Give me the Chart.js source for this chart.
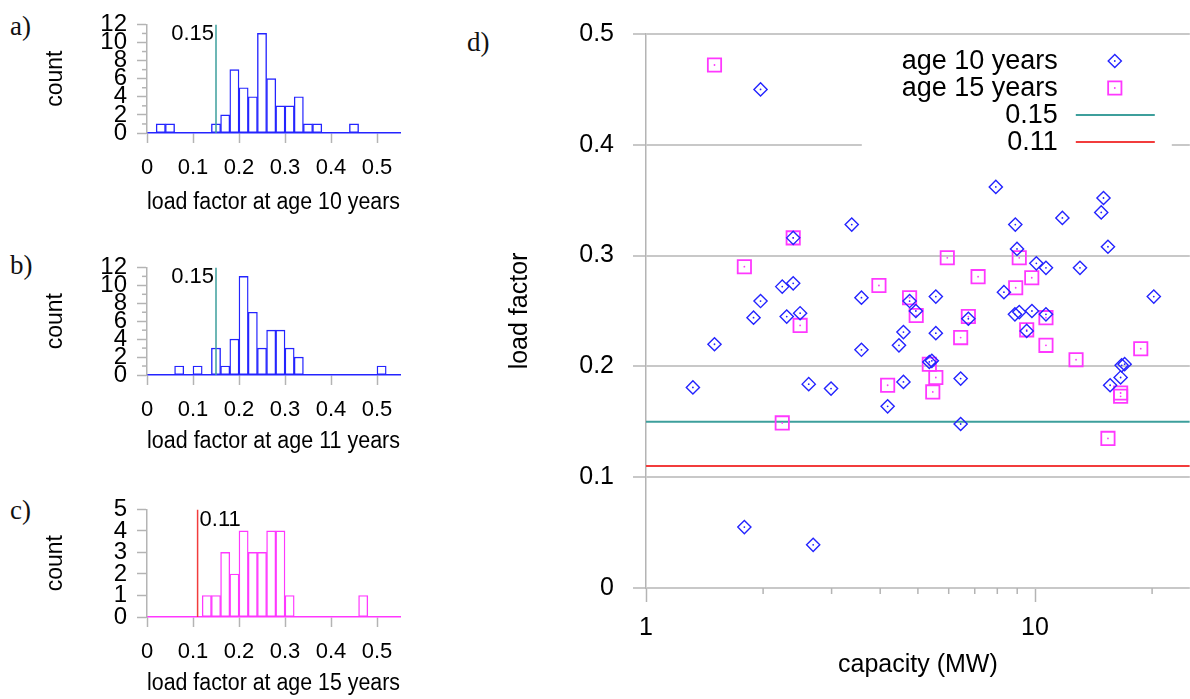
<!DOCTYPE html>
<html>
<head>
<meta charset="utf-8">
<script src="https://cdn.jsdelivr.net/npm/chart.js@4/dist/chart.umd.min.js"></script>
<style>
  html, body { margin: 0; padding: 0; background: #fff; overflow: hidden; }
  .panel { position: absolute; left: 0; }
  .tag { position: absolute; font-family: 'Liberation Serif', 'DejaVu Serif', serif; font-size: 27px; line-height: 1; color: #111; }
</style>
</head>
<body>
<div class="tag" style="left:10px;top:13px">a)</div>
<div class="tag" style="left:10px;top:252px">b)</div>
<div class="tag" style="left:10px;top:497px">c)</div>
<div class="tag" style="left:467px;top:29px">d)</div>

<canvas id="histA" class="panel" width="420" height="220" style="top:0px"></canvas>
<canvas id="histB" class="panel" width="420" height="219" style="top:243px"></canvas>
<canvas id="histC" class="panel" width="420" height="219" style="top:485px"></canvas>
<canvas id="scatter" class="panel" width="761" height="699" style="left:440px;top:0px"></canvas>

<script>
// histogram bins (lower edges), width 0.02
const binStart = [0, 0.02, 0.04, 0.06, 0.08, 0.10, 0.12, 0.14, 0.16, 0.18, 0.20, 0.22, 0.24, 0.26,
                  0.28, 0.30, 0.32, 0.34, 0.36, 0.38, 0.40, 0.42, 0.44, 0.46, 0.48, 0.50, 0.52];
const binWidth = 0.02;
const count10 = [0, 1, 1, 0, 0, 0, 0, 1, 2, 7, 5, 4, 11, 6, 3, 3, 4, 1, 1, 0, 0, 0, 1, 0, 0, 0, 0];
const count11 = [0, 0, 0, 1, 0, 1, 0, 3, 1, 4, 11, 7, 3, 5, 5, 3, 2, 0, 0, 0, 0, 0, 0, 0, 0, 1, 0];
const count15 = [0, 0, 0, 0, 0, 0, 1, 1, 3, 2, 4, 3, 3, 4, 4, 1, 0, 0, 0, 0, 0, 0, 0, 1, 0, 0, 0];
const lfTicks = [0, 0.1, 0.2, 0.3, 0.4, 0.5];
const countTicks12 = [0, 1, 2, 3, 4, 5, 6, 7, 8, 9, 10, 11, 12];
const countTicks5 = [0, 1, 2, 3, 4, 5];

const cut10 = 0.15;
const cut15 = 0.11;

// scatter: capacity (MW) vs load factor
const cap10 = [1.32, 1.50, 1.97, 1.97, 1.89, 1.79, 2.24, 2.39, 2.39, 2.30, 2.49, 2.62, 2.69, 2.99,
               3.38, 3.58, 3.58, 4.18, 4.47, 4.59, 4.59, 4.76, 4.94, 5.35, 5.43, 5.56, 5.56,
               6.44, 6.44, 6.74, 7.93, 8.32, 8.88, 8.90, 8.99, 9.11, 9.52, 9.82, 10.08, 10.67,
               10.67, 11.76, 13.05, 14.8, 15.0, 15.4, 15.6, 16.6, 16.7, 17.0, 20.2];
const lf10 = [0.181, 0.220, 0.450, 0.259, 0.244, 0.055, 0.272, 0.275, 0.316, 0.245, 0.248, 0.184, 0.039, 0.180,
              0.328, 0.262, 0.215, 0.164, 0.219, 0.231, 0.186, 0.259, 0.250, 0.204, 0.205, 0.263, 0.230,
              0.189, 0.148, 0.243, 0.362, 0.267, 0.247, 0.328, 0.306, 0.249, 0.232, 0.250, 0.293, 0.289,
              0.247, 0.334, 0.289, 0.339, 0.352, 0.308, 0.183, 0.190, 0.201, 0.202, 0.263];
const cap15 = [1.50, 1.79, 2.39, 2.49, 2.24, 3.97, 4.18, 4.76, 4.95, 5.35, 5.46, 5.56, 5.95, 6.44,
               6.74, 7.14, 8.92, 9.11, 9.52, 9.81, 10.67, 10.67, 12.75, 15.4, 16.6, 16.6, 18.7];
const lf15 = [0.472, 0.290, 0.316, 0.237, 0.149, 0.273, 0.183, 0.262, 0.246, 0.202, 0.177, 0.190, 0.298, 0.226,
              0.245, 0.281, 0.271, 0.298, 0.233, 0.280, 0.244, 0.219, 0.206, 0.135, 0.176, 0.173, 0.216];
const capMin = 1, capMax = 25;
const capTicks = [1, 2, 3, 4, 5, 6, 7, 8, 9, 10, 20];
const lfAxisTicks = [0, 0.1, 0.2, 0.3, 0.4, 0.5];

const blue = '#2424ff';
const pink = '#ff38ff';
const teal = '#3d9f9c';
const red = '#f23c3c';
const axisGray = '#b4b4b4';

Chart.defaults.font.family = "'Liberation Sans', Arial, sans-serif";
Chart.defaults.color = '#000';

const hideMinor = c => (c.tick && c.tick.label === '') ? 'rgba(0,0,0,0)' : axisGray;

// short tick marks for unlabelled ticks
const minorTicks = {
  id: 'minorTicks',
  afterDraw(chart) {
    const ctx = chart.ctx;
    Object.values(chart.scales).forEach(s => {
      const len = s.options.minorLength;
      if (!len) return;
      ctx.save();
      ctx.strokeStyle = axisGray;
      ctx.lineWidth = 1.5;
      s.ticks.forEach(t => {
        if (t.label !== '') return;
        const p = s.getPixelForValue(t.value);
        ctx.beginPath();
        if (s.isHorizontal()) { ctx.moveTo(p, s.top); ctx.lineTo(p, s.top + len); }
        else { ctx.moveTo(s.right - len, p); ctx.lineTo(s.right, p); }
        ctx.stroke();
      });
      ctx.restore();
    });
  }
};

// label next to the threshold line in the histograms
const cutLabel = {
  id: 'cutLabel',
  afterDatasetsDraw(chart, args, o) {
    const ctx = chart.ctx;
    const x = chart.scales.x.getPixelForValue(o.value);
    const y = chart.chartArea.top + o.dy;
    ctx.save();
    ctx.font = "22px 'Liberation Sans', Arial, sans-serif";
    ctx.fillStyle = '#000';
    ctx.textBaseline = 'middle';
    ctx.textAlign = o.side === 'left' ? 'right' : 'left';
    ctx.fillText(String(o.value), o.side === 'left' ? x - 2 : x + 2, y);
    ctx.restore();
  }
};

function makeHist(o) {
  return new Chart(document.getElementById(o.id), {
    type: 'bar',
    data: {
      datasets: [
        {
          type: 'line',
          data: [{x: o.cut, y: 0}, {x: o.cut, y: o.yMax}],
          borderColor: o.cutColor, borderWidth: 1.5, pointRadius: 0
        },
        {
          data: binStart.map((b, i) => ({x: b + binWidth / 2, y: o.counts[i]})),
          backgroundColor: '#fff',
          borderColor: o.color,
          borderWidth: 1.4,
          borderSkipped: false,
          barPercentage: 1,
          categoryPercentage: 1
        }
      ]
    },
    options: {
      responsive: false,
      animation: false,
      events: [],
      layout: {padding: {top: 17, right: 20, left: 0, bottom: 0}},
      plugins: {
        legend: {display: false},
        tooltip: {enabled: false},
        cutLabel: {value: o.cut, side: o.cutSide, dy: o.cutDy}
      },
      scales: {
        x: {
          type: 'linear', min: 0, max: 0.55, offset: false,
          afterBuildTicks: s => { s.ticks = lfTicks.map(v => ({value: v})); },
          afterFit: s => { s.height = 87; },
          grid: {drawOnChartArea: false, offset: false, tickLength: 10, tickWidth: 1.5, tickColor: axisGray},
          border: {color: o.color, width: 1.5},
          ticks: {autoSkip: false, maxRotation: 0, padding: 12, font: {size: 22},
                  callback: v => String(+v.toFixed(2))},
          title: {display: true, text: o.title, font: {size: 23}, padding: {top: 0, bottom: o.titlePad}}
        },
        y: {
          min: 0, max: o.yMax,
          minorLength: 5,
          afterBuildTicks: s => { s.ticks = o.yTicks.map(v => ({value: v})); },
          afterFit: s => { s.width = 147; },
          grid: {drawOnChartArea: false, tickLength: 10, tickWidth: 1.5, tickColor: hideMinor},
          border: {color: axisGray, width: 1.5},
          ticks: {autoSkip: false, padding: 10, font: {size: 24},
                  callback: v => (v % o.labelStep === 0 ? String(v) : '')},
          title: {display: true, text: 'count', font: {size: 23}, padding: {top: 42, bottom: 0}}
        }
      }
    },
    plugins: [minorTicks, cutLabel]
  });
}

makeHist({id: 'histA', counts: count10, yMax: 12, yTicks: countTicks12, labelStep: 2, color: blue,
          cut: cut10, cutColor: teal, cutSide: 'left', cutDy: 10,
          title: 'load factor at age 10 years', titlePad: 4});
makeHist({id: 'histB', counts: count11, yMax: 12, yTicks: countTicks12, labelStep: 2, color: blue,
          cut: cut10, cutColor: teal, cutSide: 'left', cutDy: 10,
          title: 'load factor at age 11 years', titlePad: 7});
makeHist({id: 'histC', counts: count15, yMax: 5, yTicks: countTicks5, labelStep: 1, color: pink,
          cut: cut15, cutColor: red, cutSide: 'right', cutDy: 11,
          title: 'load factor at age 15 years', titlePad: 7});

// legend drawn inside the plot area, on a white box
const boxLegend = {
  id: 'boxLegend',
  afterDraw(chart) {
    const ctx = chart.ctx;
    const ca = chart.chartArea;
    const rows = [
      {text: 'age 10 years', kind: 'rectRot', color: blue, r: 6.6},
      {text: 'age 15 years', kind: 'rect', color: pink, r: 9.4},
      {text: String(cut10), kind: 'line', color: teal},
      {text: String(cut15), kind: 'line', color: red}
    ];
    ctx.save();
    ctx.fillStyle = '#fff';
    ctx.fillRect(ca.right - 328, ca.top + 7, 310, 110);
    ctx.font = "27px 'Liberation Sans', Arial, sans-serif";
    ctx.textAlign = 'right';
    ctx.textBaseline = 'middle';
    rows.forEach((r, i) => {
      const y = ca.top + 27 + i * 27;
      ctx.fillStyle = '#000';
      ctx.fillText(r.text, ca.right - 132, y + 1);
      ctx.strokeStyle = r.color;
      if (r.kind === 'line') {
        ctx.lineWidth = 2;
        ctx.beginPath();
        ctx.moveTo(ca.right - 114, y);
        ctx.lineTo(ca.right - 35, y);
        ctx.stroke();
      } else {
        ctx.lineWidth = r.kind === 'rect' ? 1.8 : 1.4;
        ctx.fillStyle = 'rgba(0,0,0,0)';
        Chart.helpers.drawPoint(ctx, {pointStyle: r.kind, radius: r.r, borderWidth: ctx.lineWidth, rotation: 0},
                                ca.right - 75, y);
        ctx.fillStyle = r.color;
        ctx.beginPath();
        ctx.arc(ca.right - 75, y, 0.9, 0, Math.PI * 2);
        ctx.fill();
      }
    });
    ctx.restore();
  }
};

const pts10 = cap10.map((c, i) => ({x: c, y: lf10[i]}));
const pts15 = cap15.map((c, i) => ({x: c, y: lf15[i]}));

new Chart(document.getElementById('scatter'), {
  type: 'scatter',
  data: {
    datasets: [
      {data: pts10, pointStyle: 'rectRot', pointRadius: 6.6, pointBorderColor: blue, pointBorderWidth: 1.4,
       pointBackgroundColor: 'rgba(0,0,0,0)'},
      {data: pts10, pointStyle: 'circle', pointRadius: 0.9, pointBorderWidth: 0, pointBackgroundColor: blue},
      {data: pts15, pointStyle: 'rect', pointRadius: 9.4, pointBorderColor: pink, pointBorderWidth: 1.8,
       pointBackgroundColor: 'rgba(0,0,0,0)'},
      {data: pts15, pointStyle: 'circle', pointRadius: 0.9, pointBorderWidth: 0, pointBackgroundColor: pink},
      {type: 'line', data: [{x: capMin, y: cut10}, {x: capMax, y: cut10}], borderColor: teal, borderWidth: 2,
       pointRadius: 0},
      {type: 'line', data: [{x: capMin, y: cut15}, {x: capMax, y: cut15}], borderColor: red, borderWidth: 2,
       pointRadius: 0}
    ]
  },
  options: {
    responsive: false,
    animation: false,
    events: [],
    layout: {padding: {top: 33, right: 0, left: 0, bottom: 0}},
    plugins: {legend: {display: false}, tooltip: {enabled: false}},
    scales: {
      x: {
        type: 'logarithmic', min: capMin, max: capMax,
        minorLength: 6,
        afterBuildTicks: s => { s.ticks = capTicks.map(v => ({value: v})); },
        afterFit: s => { s.height = 111; },
        grid: {drawOnChartArea: false, tickLength: 14, tickWidth: 1.5, tickColor: hideMinor},
        border: {display: false},
        ticks: {autoSkip: false, maxRotation: 0, padding: 11, font: {size: 25},
                callback: v => (v === 1 || v === 10 ? String(v) : '')},
        title: {display: true, text: 'capacity (MW)', font: {size: 25}, padding: {top: 0, bottom: 19}}
      },
      y: {
        min: 0, max: 0.5,
        afterBuildTicks: s => { s.ticks = lfAxisTicks.map(v => ({value: v})); },
        afterFit: s => { s.width = 206; },
        grid: {color: '#c8c8c8', lineWidth: 2, tickLength: 13, tickColor: '#c8c8c8'},
        border: {color: axisGray, width: 1.5},
        ticks: {autoSkip: false, padding: 19, font: {size: 25}, callback: v => String(v)},
        title: {display: true, text: 'load factor', font: {size: 25}, padding: {top: 65, bottom: 0}}
      }
    }
  },
  plugins: [minorTicks, boxLegend]
});
</script>
</body>
</html>
